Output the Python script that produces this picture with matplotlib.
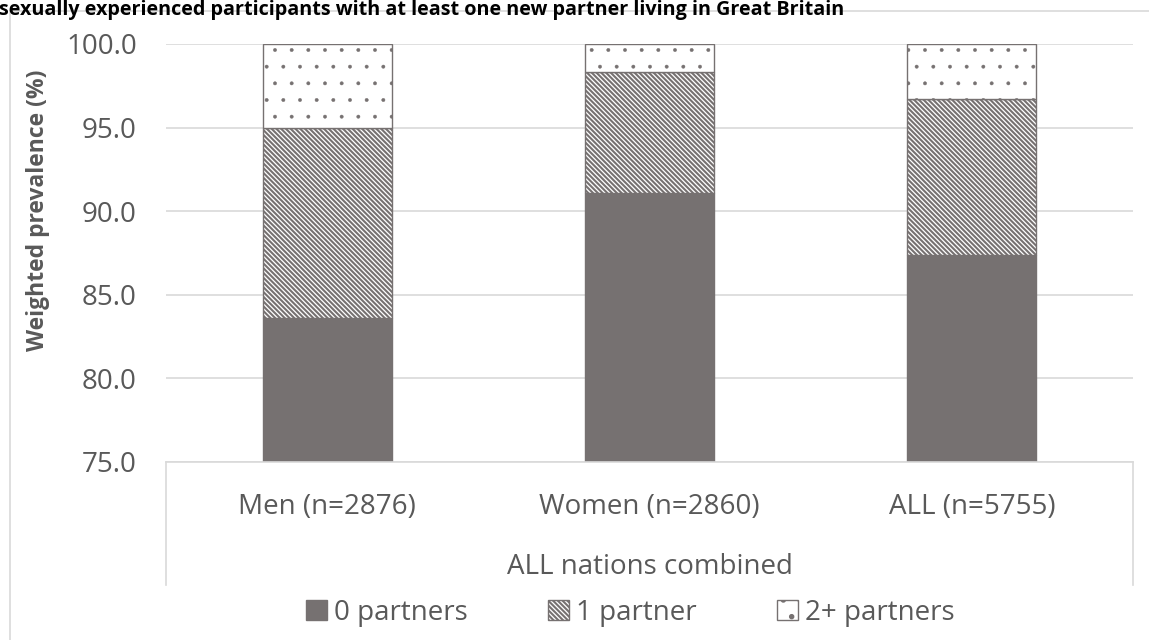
import matplotlib
matplotlib.use("Agg")
import matplotlib.pyplot as plt
import matplotlib.patches as mpatches
import numpy as np

plt.rcParams["font.family"] = ["Open Sans", "DejaVu Sans"]
plt.rcParams["hatch.linewidth"] = 1.5

# data
groups = ["Men (n=2876)", "Women (n=2860)", "ALL (n=5755)"]
zero_partners = [83.6, 91.1, 87.4]
one_partner = [11.4, 7.2, 9.3]
two_plus = [5.0, 1.7, 3.3]
series_names = ["0 partners", "1 partner", "2+ partners"]
group_title = "ALL nations combined"
title = ("sexually experienced participants with at least one new partner "
         "living in Great Britain")
yticks = [75.0, 80.0, 85.0, 90.0, 95.0, 100.0]

# colours
dark = "#767171"
grid = "#D9D9D9"
txt = "#595959"

W, H = 1149, 640
fig = plt.figure(figsize=(W / 100, H / 100), dpi=100)

# chart-area border (cropped on right/bottom)
fig.patches.append(mpatches.Rectangle(
    (10 / W, -0.1), 1.2, (H - 11) / H + 0.1, transform=fig.transFigure,
    fill=False, edgecolor=grid, lw=1.2, zorder=0))

fig.text(-0.001, 1 - 15 / H, title, fontsize=14.2, fontweight="bold",
         color="black", va="baseline", ha="left")

x0, x1, ytop, ybot = 166, 1133, 44, 462
ax = fig.add_axes([x0 / W, (H - ybot) / H, (x1 - x0) / W, (ybot - ytop) / H])

x = np.arange(len(groups))
bw = 0.40
z = np.array(zero_partners)
o = np.array(one_partner)
t = np.array(two_plus)

b0 = ax.bar(x, z - 75, bw, bottom=75, color=dark, edgecolor=dark, lw=1,
            label=series_names[0], zorder=3)
b1 = ax.bar(x, o, bw, bottom=z, facecolor="white", edgecolor=dark,
            hatch="\\" * 7, lw=1, label=series_names[1], zorder=3)
with plt.rc_context({"hatch.linewidth": 0.3}):
    b2 = ax.bar(x, t, bw, bottom=z + o, facecolor="white", edgecolor=dark,
                hatch=".", lw=1, label=series_names[2], zorder=3)
for p in b2:
    if hasattr(p, "set_hatch_linewidth"):
        p.set_hatch_linewidth(0.3)

ax.set_xlim(-0.5, len(groups) - 0.5)
ax.set_ylim(75, 100)
ax.set_yticks(yticks)
ax.set_yticklabels([f"{v:.1f}" for v in yticks])
ax.set_xticks(x)
ax.set_xticklabels(groups)
ax.tick_params(axis="both", length=0, labelsize=20, labelcolor=txt)
ax.tick_params(axis="y", pad=21)
ax.tick_params(axis="x", pad=22)

for s in ["top", "right", "left"]:
    ax.spines[s].set_visible(False)
ax.spines["bottom"].set_color(grid)
ax.spines["bottom"].set_linewidth(1.2)
ax.spines["bottom"].set_zorder(4)
ax.grid(axis="y", color=grid, lw=1.2, zorder=0)
ax.set_axisbelow(True)

# multi-level category dividers
drop = (585 - ybot) / (ybot - ytop)
for xx in (0, 1):
    ax.plot([xx, xx], [0, -drop], transform=ax.transAxes, color=grid,
            lw=1.2, clip_on=False)
ax.text(0.5, -(567 - ybot) / (ybot - ytop), group_title,
        transform=ax.transAxes, ha="center", va="center", fontsize=20,
        color=txt)

ax.set_ylabel("Weighted prevalence (%)", fontsize=16.5, fontweight="bold",
              color=txt)
ax.yaxis.set_label_coords((50 - x0) / (x1 - x0), (ybot - 210) / (ybot - ytop))

fig.legend(handles=[b0, b1, b2], loc="center", ncol=3,
           bbox_to_anchor=(630 / W, 1 - 613 / H), frameon=False, fontsize=20,
           labelcolor=txt, handlelength=0.75, handleheight=0.75,
           handletextpad=0.25, columnspacing=2.9)

fig.savefig("out.png", dpi=100)
